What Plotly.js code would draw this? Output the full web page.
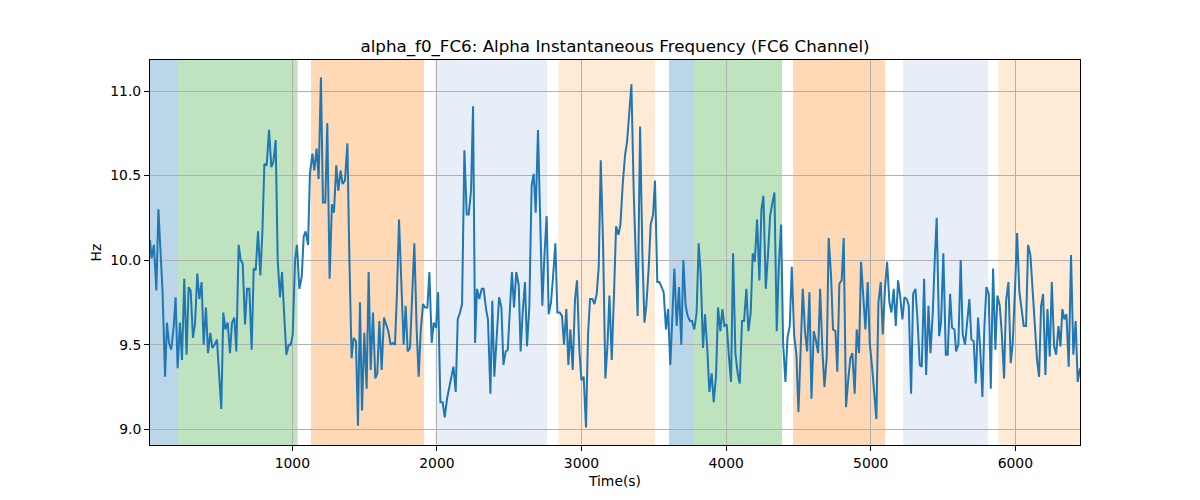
<!DOCTYPE html>
<html>
<head>
<meta charset="utf-8">
<script src="https://cdn.plot.ly/plotly-3.0.1.min.js"></script>
<style>html,body{margin:0;padding:0;background:#fff;}#chart{width:1200px;height:500px;}</style>
</head>
<body>
<div id="chart"></div>
<script>
// Time (s) of each sample
const time = [
  16,27,43,60,74,90,103,120,133,147,163,180,193,207,223,237,253,269,283,297,313,327,343,357,373,387,403,417,433,447,463,479,493,509,523,537,553,569,583,599,613,629,643,657,673,687,703,719,733,747,763,779,793,807,
  823,839,855,869,885,899,915,929,943,959,975,989,1003,1019,1032,1049,1065,1079,1092,1109,1122,1139,1152,1168,1182,1198,1212,1228,1242,1258,1274,1288,1304,1318,1334,1348,1364,1381,1394,1410,1424,1440,1454,1468,1482,1498,1514,1528,1542,1558,1574,1588,1602,
  1618,1634,1650,1664,1680,1694,1710,1724,1738,1754,1770,1784,1798,1814,1828,1844,1860,1874,1888,1904,1918,1934,1948,1964,1978,1994,2008,2024,2040,2054,2070,2084,2100,2114,2130,2144,2160,2174,2190,2206,2220,2236,2250,2264,2277,2293,2310,2323,2340,2353,2370,2383,2397,
  2413,2430,2446,2460,2476,2490,2506,2519,2533,2549,2566,2579,2593,2609,2623,2639,2655,2669,2683,2699,2713,2729,2743,2759,2773,2789,2803,2819,2833,2849,2865,2879,2895,2909,2923,2939,2955,2969,2985,2999,3015,3031,3045,3059,3075,3089,3105,3119,3133,3149,3165,3179,3193,
  3209,3225,3239,3255,3269,3285,3301,3315,3331,3345,3361,3375,3388,3405,3421,3435,3448,3465,3478,3495,3508,3524,3538,3554,3568,3584,3598,3614,3628,3642,3658,3674,3690,3704,3720,3734,3750,3764,3780,3796,3810,3824,3840,3854,3870,3884,3900,3914,3930,3944,3960,3974,3988,
  4004,4020,4034,4048,4064,4080,4094,4110,4124,4140,4154,4170,4184,4198,4214,4230,4244,4258,4274,4290,4304,4320,4334,4350,4364,4380,4394,4410,4424,4440,4454,4470,4486,4500,4516,4530,4546,4560,4576,4590,4606,4620,4636,4650,4666,4680,4696,4709,4726,4739,4756,4769,4783,
  4799,4813,4829,4845,4859,4873,4889,4903,4919,4933,4949,4963,4979,4993,5009,5023,5039,5053,5069,5083,5099,5113,5129,5143,5159,5173,5189,5203,5219,5233,5249,5263,5279,5293,5309,5323,5339,5353,5369,5383,5399,5413,5429,5443,5456,5473,5486,5502,5519,5532,5549,5562,5579,
  5590,5606,5622,5636,5652,5666,5682,5696,5712,5726,5742,5756,5772,5786,5800,5816,5830,5846,5862,5876,5892,5906,5922,5936,5952,5968,5982,5998,6012,6028,6044,6058,6074,6088,6104,6118,6134,6150,6164,6178,6192,6208,6222,6238,6252,6268,6282,6298,6312,6325,6339,6353,6369,6385,6401,6417,6431,6447
];
// Alpha instantaneous frequency (Hz)
const freq = [
  10.12,10.01,10.09,9.82,10.30,10.02,9.81,9.31,9.63,9.51,9.47,9.61,9.78,9.36,9.63,9.41,9.89,9.44,9.84,9.82,9.54,9.62,9.92,9.77,9.87,9.50,9.72,9.45,9.57,9.48,9.50,9.53,9.30,9.12,9.69,9.59,9.63,9.45,9.63,9.66,9.46,10.09,10.00,9.98,9.62,9.83,9.83,9.47,9.95,9.94,10.17,9.91,10.16,10.57,
  10.56,10.77,10.55,10.58,10.71,10.00,9.78,9.93,9.69,9.44,9.50,9.50,9.56,10.00,10.09,9.83,9.90,10.14,10.17,10.09,10.51,10.63,10.53,10.66,10.48,11.08,10.34,10.34,10.81,9.89,10.33,10.28,10.56,10.41,10.53,10.45,10.47,10.69,10.04,9.42,9.54,9.52,9.02,9.75,9.11,9.57,9.24,9.93,9.35,9.69,9.30,9.33,9.64,
  9.35,9.66,9.62,9.58,9.50,9.51,9.50,9.81,10.24,9.92,9.50,9.73,9.46,9.48,9.81,10.10,9.59,9.31,9.58,9.74,9.72,9.72,9.93,9.51,9.63,9.60,9.81,9.16,9.16,9.07,9.18,9.24,9.31,9.37,9.22,9.65,9.69,9.74,10.65,10.27,10.27,10.41,10.91,9.51,9.83,9.77,9.83,9.83,9.71,9.65,9.21,9.76,9.31,
  9.51,9.78,9.72,9.38,9.46,9.47,9.73,9.93,9.72,9.93,9.85,9.46,9.69,9.87,9.49,9.72,10.44,10.51,10.28,10.77,10.28,9.73,10.02,10.26,9.68,9.75,9.90,10.10,9.69,9.69,9.67,9.50,9.71,9.38,9.59,9.35,9.77,9.88,9.47,9.29,9.31,9.01,9.56,9.77,9.77,9.74,9.80,9.96,10.59,10.10,9.30,9.49,9.79,
  9.41,9.81,10.20,10.15,10.21,10.45,10.62,10.70,10.88,11.04,10.40,10.04,9.67,10.79,10.04,9.63,9.73,9.96,10.21,10.27,10.47,9.87,9.87,9.84,9.81,9.59,9.71,9.38,9.64,9.95,9.61,9.84,9.50,10.00,9.73,9.67,9.64,9.64,9.59,9.69,10.10,9.92,9.48,9.68,9.47,9.22,9.33,9.16,9.31,9.72,9.58,9.71,9.61,
  9.62,9.42,9.28,10.04,9.45,9.33,9.27,9.64,9.64,9.83,9.58,9.69,10.04,9.99,10.24,9.88,10.30,10.38,9.83,10.04,10.26,10.34,10.40,9.58,9.96,10.21,9.51,9.28,9.54,9.61,9.96,9.56,9.44,9.10,9.55,9.83,9.57,9.46,9.81,9.18,9.58,9.53,9.45,9.83,9.46,9.25,9.43,10.13,9.90,9.59,9.58,9.34,9.86,
  9.88,10.13,9.13,9.30,9.42,9.45,9.21,9.59,9.45,9.99,9.80,9.59,9.87,9.51,9.37,9.24,9.06,9.75,9.87,9.56,9.84,9.99,9.75,9.69,9.83,9.61,9.88,9.79,9.65,9.78,9.77,9.73,9.21,9.80,9.83,9.65,9.38,9.37,9.89,9.32,9.73,9.45,9.69,10.01,10.25,9.55,9.63,10.04,9.44,9.44,9.80,9.60,9.59,
  9.46,9.50,10.00,9.56,9.50,9.61,9.77,9.53,9.52,9.27,9.66,9.49,9.19,9.61,9.84,9.80,9.24,9.95,9.47,9.79,9.73,9.57,9.30,9.76,9.87,9.39,9.51,9.84,10.16,9.81,9.70,9.61,9.61,10.09,10.03,9.83,9.61,9.41,9.31,9.73,9.80,9.32,9.71,9.43,9.87,9.49,9.44,9.61,9.49,9.71,9.65,9.68,9.37,10.03,9.44,9.64,9.28,9.36
];
// Shaded phases
const phaseStart = [16, 212, 1129, 1989, 2840, 3605, 3778, 4463, 5224, 5883];
const phaseEnd   = [212, 1037, 1911, 2762, 3508, 3778, 4387, 5099, 5811, 6447];
const phaseColor = [
  'rgba(31,119,180,0.3)', 'rgba(44,160,44,0.3)', 'rgba(255,127,14,0.3)', 'rgba(174,199,232,0.3)', 'rgba(255,187,120,0.3)',
  'rgba(31,119,180,0.3)', 'rgba(44,160,44,0.3)', 'rgba(255,127,14,0.3)', 'rgba(174,199,232,0.3)', 'rgba(255,187,120,0.3)'
];
const xTicks = [1000, 2000, 3000, 4000, 5000, 6000];
const yTicks = [9.0, 9.5, 10.0, 10.5, 11.0];

const ymin = Math.min(...freq), ymax = Math.max(...freq);
const pad = (ymax - ymin) * 0.05;

const shapes = phaseStart.map((s, i) => ({
  type: 'rect', xref: 'x', yref: 'paper', x0: s, x1: phaseEnd[i], y0: 0, y1: 1,
  fillcolor: phaseColor[i], line: {width: 0}, layer: 'below'
}));

const font = {family: 'DejaVu Sans', size: 13.9, color: '#000'};
const axisCommon = {
  showline: true, mirror: true, linecolor: '#000', linewidth: 1,
  ticks: 'outside', ticklen: 5, tickwidth: 1, tickcolor: '#000',
  showgrid: true, gridcolor: '#b0b0b0', gridwidth: 1, zeroline: false,
  tickfont: font
};

Plotly.newPlot('chart', [{
  x: time, y: freq, type: 'scatter', mode: 'lines',
  line: {color: '#1f77b4', width: 2}, hoverinfo: 'skip'
}], {
  width: 1200, height: 500,
  margin: {l: 150, r: 120, t: 60, b: 55},
  paper_bgcolor: '#fff', plot_bgcolor: '#fff',
  showlegend: false,
  title: {text: 'alpha_f0_FC6: Alpha Instantaneous Frequency (FC6 Channel)',
          font: {family: 'DejaVu Sans', size: 16.7, color: '#000'},
          x: 0.5, xref: 'paper', y: 0.908, yref: 'container', yanchor: 'middle'},
  xaxis: Object.assign({}, axisCommon, {
    range: [time[0], time[time.length - 1]], tickvals: xTicks,
    title: {text: 'Time(s)', font: font, standoff: 6}
  }),
  yaxis: Object.assign({}, axisCommon, {
    range: [ymin - pad, ymax + pad], tickvals: yTicks, tickformat: '.1f',
    title: {text: 'Hz', font: font, standoff: 5}
  }),
  shapes: shapes
}, {displayModeBar: false, staticPlot: true});
</script>
</body>
</html>
